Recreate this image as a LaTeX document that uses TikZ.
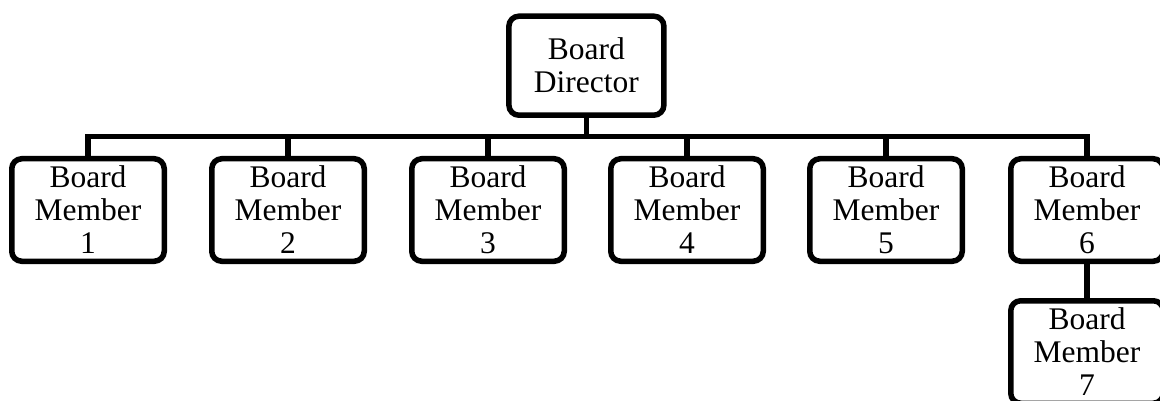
\documentclass[tikz,border=0pt]{standalone}
\usepackage{fontspec}
\setmainfont{Liberation Serif}
\begin{document}
\begin{tikzpicture}[x=1pt,y=-1pt,
  box/.style={draw=black, line width=5.5pt, rounded corners=10pt, fill=white,
    inner sep=0pt, align=center,
    font=\fontsize{31.5}{33}\selectfont},
  member/.style={box, minimum width=152.5pt, minimum height=102.5pt},
  link/.style={draw=black, line width=5.5pt}]
\useasboundingbox (0,0) rectangle (1160,401);
\clip (0,0) rectangle (1160,401);
\node[box, minimum width=155pt, minimum height=99pt] (dir) at (586.4,65.7) {Board\\Director};
\node[member] (m1) at (88,210) {Board\\Member\\1};
\node[member] (m2) at (288,210) {Board\\Member\\2};
\node[member] (m3) at (488,210) {Board\\Member\\3};
\node[member] (m4) at (687,210) {Board\\Member\\4};
\node[member] (m5) at (886,210) {Board\\Member\\5};
\node[member] (m6) at (1087,210) {Board\\Member\\6};
\node[member] (m7) at (1087,352) {Board\\Member\\7};
\coordinate (bus) at (586,136.5);
\path[link] (dir.south) -- (dir.south|-bus);
\path[link] (m1.north) -- (m1.north|-bus) -- (m6.north|-bus) -- (m6.north);
\foreach \m in {m2,m3,m4,m5} {\path[link] (\m.north) -- (\m.north|-bus);}
\path[link] (m6.south) -- (m7.north);
\end{tikzpicture}
\end{document}
